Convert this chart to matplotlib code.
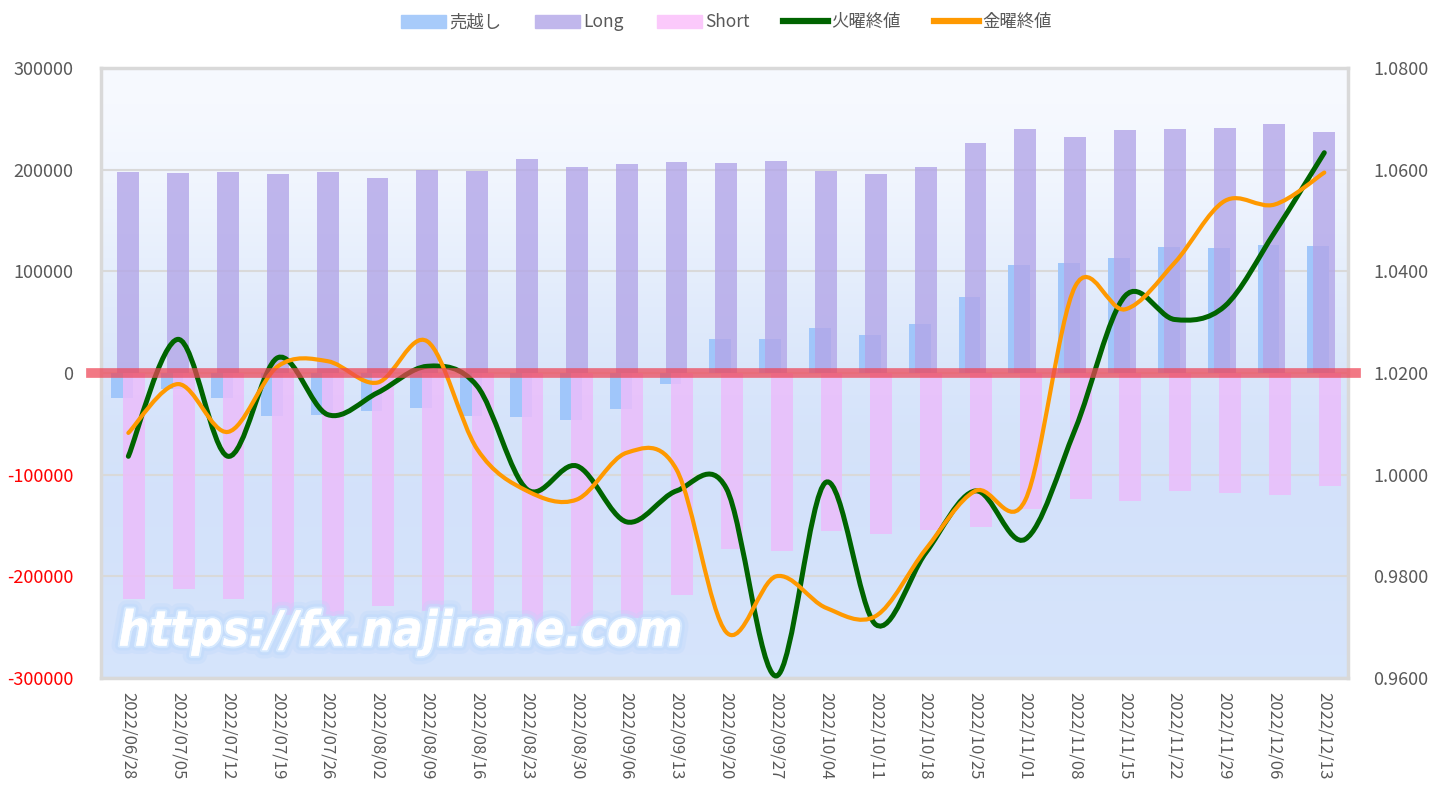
import numpy as np
import matplotlib
matplotlib.use("Agg")
import matplotlib.pyplot as plt
from matplotlib.path import Path
from matplotlib.patches import PathPatch, Patch
from matplotlib.lines import Line2D
import matplotlib.patheffects as pe

plt.rcParams['font.family'] = ['Noto Sans CJK JP', 'DejaVu Sans']

# Weekly dates (Tuesday)
dates = ["2022/06/28", "2022/07/05", "2022/07/12", "2022/07/19", "2022/07/26",
         "2022/08/02", "2022/08/09", "2022/08/16", "2022/08/23", "2022/08/30",
         "2022/09/06", "2022/09/13", "2022/09/20", "2022/09/27", "2022/10/04",
         "2022/10/11", "2022/10/18", "2022/10/25", "2022/11/01", "2022/11/08",
         "2022/11/15", "2022/11/22", "2022/11/29", "2022/12/06", "2022/12/13"]

# Positions (contracts)
long_pos = [197400, 196700, 197400, 195700, 198000, 191800, 200000, 199000,
            210500, 202000, 205000, 207500, 206000, 208500, 199000, 196000,
            202600, 226000, 239700, 232000, 239000, 239700, 241000, 245000,
            236400]
short_pos = [-222200, -212500, -222200, -238400, -239000, -229500, -234500,
             -241800, -254300, -248700, -240900, -218400, -173000, -175000,
             -155300, -158600, -154300, -151300, -133600, -124300, -126300,
             -116100, -118400, -119700, -111200]
net_pos = [-24800, -15800, -24800, -42700, -41000, -37700, -34500, -42800,
           -43800, -46700, -35900, -10900, 33000, 33500, 43700, 37400, 48300,
           74700, 106100, 107700, 112700, 123600, 122600, 125300, 125200]

# Closing prices
tue_close = [1.0036, 1.0266, 1.0036, 1.0230, 1.0118, 1.0161, 1.0213, 1.0174,
             0.9971, 1.0017, 0.9907, 0.9968, 0.9973, 0.9604, 0.9985, 0.9705,
             0.9846, 0.9968, 0.9873, 1.0089, 1.0351, 1.0305, 1.0331, 1.0476,
             1.0633]
fri_close = [1.0082, 1.0178, 1.0084, 1.0213, 1.0223, 1.0181, 1.0262, 1.0050,
             0.9968, 0.9951, 1.0043, 1.0010, 0.9690, 0.9800, 0.9738, 0.9722,
             0.9853, 0.9968, 0.9950, 1.0370, 1.0325, 1.0417, 1.0538, 1.0531,
             1.0594]

GREY = "#595959"


def smooth_path(xs, ys):
  """Excel style smoothed line as cubic bezier segments"""
  pts = np.column_stack([xs, ys]).astype(float)
  n = len(pts)
  verts = [pts[0]]
  codes = [Path.MOVETO]
  for i in range(n - 1):
    p0 = pts[max(i - 1, 0)]
    p1 = pts[i]
    p2 = pts[i + 1]
    p3 = pts[min(i + 2, n - 1)]
    c1 = p1 + (p2 - p0) / 6.0
    c2 = p2 - (p3 - p1) / 6.0
    verts += [c1, c2, p2]
    codes += [Path.CURVE4] * 3
  return Path(verts, codes)


fig = plt.figure(figsize=(14.3, 7.93), dpi=100)
ax = fig.add_axes([0.0706, 0.145, 0.8722, 0.7695])
ax2 = ax.twinx()

x = np.arange(len(dates))

# gradient background of the plot area (top row first)
grad = np.array([[0.97, 0.98, 1.0], [0.91, 0.94, 0.99], [0.85, 0.90, 0.98],
                 [0.82, 0.88, 0.98], [0.84, 0.895, 0.985]])
ax.imshow(grad.reshape(-1, 1, 3), extent=[0, 1, 0, 1], transform=ax.transAxes,
          aspect="auto", interpolation="bicubic", zorder=0)

# bars
bw = 0.44
ax.bar(x - 0.12, net_pos, bw, color="#a0c6fa", zorder=2)
ax.bar(x, long_pos, bw, color="#b3a6e8", alpha=0.8, zorder=3)
ax.bar(x + 0.11, short_pos, bw, color="#ebbdfb", alpha=0.85, zorder=3)

ax.set_xlim(-0.55, 24.48)
ax.set_ylim(-300000, 300000)
ax.set_yticks(np.arange(-300000, 300001, 100000))
ax.set_yticklabels([f"{v:d}" for v in range(-300000, 300001, 100000)])
for lbl, v in zip(ax.get_yticklabels(), range(-300000, 300001, 100000)):
  lbl.set_color("red" if v < 0 else GREY)
ax.grid(axis="y", color="#d9d9d9", linewidth=1.5, zorder=1)
ax.set_axisbelow(True)
ax.tick_params(axis="y", length=0, labelsize=13, pad=20)
ax.set_xticks(x)
ax.set_xticklabels(dates, rotation=270, color=GREY, fontsize=12)
ax.tick_params(axis="x", length=0, pad=10)
for s in ax.spines.values():
  s.set_color("#d9d9d9")
  s.set_linewidth(2.5)

# price lines on the right axis
ax2.set_ylim(0.96, 1.08)
ax2.set_yticks(np.arange(0.96, 1.0801, 0.02))
ax2.set_yticklabels([f"{v:.4f}" for v in np.arange(0.96, 1.0801, 0.02)])
ax2.tick_params(axis="y", length=0, labelsize=13, labelcolor=GREY, pad=18)
for s in ax2.spines.values():
  s.set_visible(False)

ax2.add_patch(PathPatch(smooth_path(x, tue_close), facecolor="none",
                        edgecolor="#006400", linewidth=3.6, capstyle="round",
                        clip_on=False, zorder=4))
ax2.add_patch(PathPatch(smooth_path(x, fri_close), facecolor="none",
                        edgecolor="#ff9900", linewidth=3.0, capstyle="round",
                        clip_on=False, zorder=5))

# red zero line on top
ax2.axhline(1.02, xmin=-0.008, xmax=1.006, color="#ee4455", alpha=0.72,
            linewidth=7, clip_on=False, zorder=6)

# watermark with a soft glow
glow = [pe.withStroke(linewidth=12, foreground=(0.72, 0.84, 0.99, 0.25)),
        pe.withStroke(linewidth=7, foreground=(0.75, 0.86, 0.99, 0.5)),
        pe.withStroke(linewidth=3, foreground=(0.85, 0.92, 1.0, 0.9)),
        pe.Normal()]
ax.text(0.014, 0.076, "https://fx.najirane.com", transform=ax.transAxes,
        fontsize=35, fontweight="bold", fontstyle="italic",
        fontstretch="condensed", color="white", family="DejaVu Sans",
        ha="left", va="center", zorder=7, path_effects=glow)

# legend
handles = [Patch(color="#a8cbfa"), Patch(color="#c1b7ec"),
           Patch(color="#fbc9fb"),
           Line2D([], [], color="#006400", linewidth=4.5),
           Line2D([], [], color="#ff9900", linewidth=4.5)]
labels = ["売越し", "Long", "Short", "火曜終値", "金曜終値"]
fig.legend(handles, labels, loc="center", bbox_to_anchor=(0.508, 0.972),
           ncol=5, frameon=False, fontsize=12.5, labelcolor=GREY,
           handlelength=2.6, handleheight=0.8, handletextpad=0.2,
           columnspacing=1.9)

fig.savefig("out.png", dpi=100)
